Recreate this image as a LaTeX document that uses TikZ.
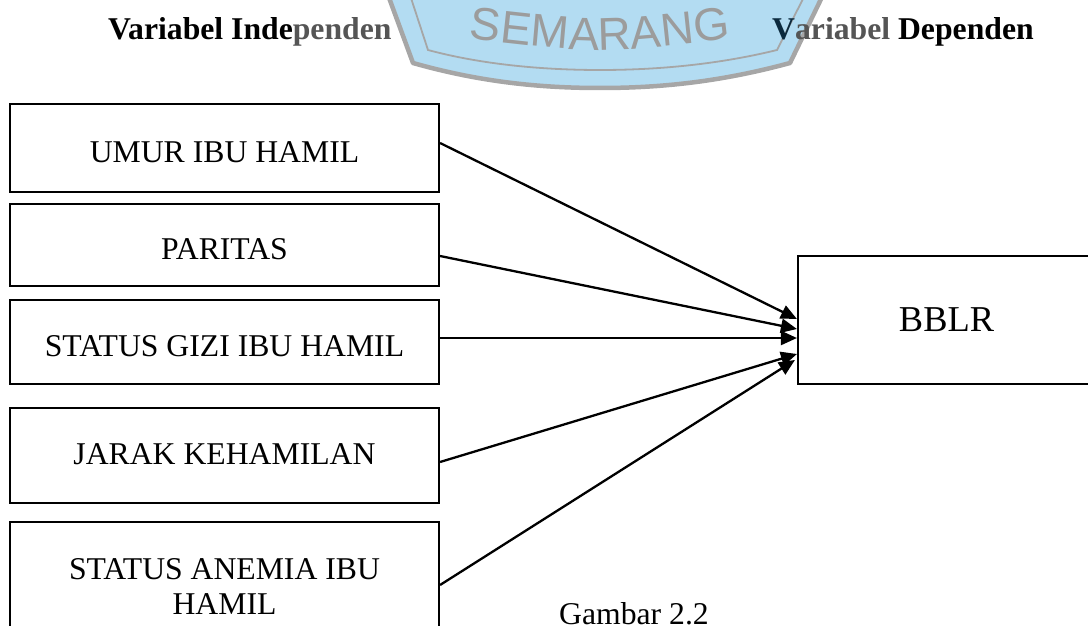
\documentclass[tikz,border=0pt]{standalone}
\usepackage{fontspec}
\setmainfont{Liberation Serif}
\setsansfont{Liberation Sans}
\usetikzlibrary{arrows.meta,calc,decorations.text}
\definecolor{wmblue}{HTML}{B3DCF2}
\definecolor{wmgray}{HTML}{A6A6A6}
\definecolor{wmtext}{HTML}{9C9C9C}
\definecolor{titlegray}{HTML}{555555}
\definecolor{titlenavy}{HTML}{0B2A3E}
\begin{document}
\begin{tikzpicture}[x=1pt,y=-1pt,
  box/.style={draw=black, line width=2.1pt, minimum width=429pt, inner sep=0pt},
  lbl/.style={font=\fontsize{31.7}{35}\selectfont, anchor=base, inner sep=0pt},
  title/.style={font=\bfseries\fontsize{31.7}{36}\selectfont, anchor=base west, inner sep=0pt},
  conn/.style={line width=2.3pt, -{Triangle[length=16pt,width=14pt]}}]
\useasboundingbox (0,0) rectangle (1088,626);
\clip (0,0) rectangle (1088,626);
% watermark
\path[fill=wmblue, draw=wmgray, line width=4.5pt, line join=round]
  (388,-5) -- (413,63) .. controls (480,82) and (540,88) .. (600,88)
  .. controls (660,88) and (720,82) .. (790,63) -- (823,-5) -- cycle;
\draw[wmgray, line width=1.8pt]
  (410,-5) -- (428,50) .. controls (480,64) and (540,70) .. (600,70)
  .. controls (660,70) and (720,64) .. (777,50) -- (805,-5);
\path[decorate, decoration={text along path, text align=center,
  text={|\sffamily\fontsize{46}{46}\selectfont\color{wmtext}|SEMARANG}}]
  (462,38) .. controls (600,54) .. (738,38);
% titles
\node[title] (t1) at (108,40) {Variabel Inde\textcolor{titlegray}{penden}};
\node[title] (t2) at (772,40) {\textcolor{titlenavy}{V}\textcolor{titlegray}{ariabel} Dependen};
% boxes
\node[box, minimum height=88pt] (b1) at (224.5,148) {};
\node[box, minimum height=82pt] (b2) at (224.5,245) {};
\node[box, minimum height=84pt] (b3) at (224.5,342) {};
\node[box, minimum height=95pt] (b4) at (224.5,455.5) {};
\node[box, minimum height=128pt] (b5) at (224.5,586) {};
\node[box, minimum width=297pt, minimum height=128pt, font=\fontsize{36.4}{40}\selectfont] (bb) at (946.5,320) {BBLR};
% labels
\node[lbl] (l1) at (224.5,162.5) {UMUR IBU HAMIL};
\node[lbl] (l2) at (224.5,259.5) {PARITAS};
\node[lbl] (l3) at (224.5,356) {STATUS GIZI IBU HAMIL};
\node[lbl] (l4) at (224.5,464) {JARAK KEHAMILAN};
\node[lbl, align=center, anchor=center] (l5) at (224.5,587) {STATUS ANEMIA IBU\\HAMIL};
\node[lbl] (cap) at (634,624) {Gambar 2.2};
% connectors
\draw[conn] ($(b1.east)+(0,-5)$) -- ($(bb.west)+(0,-1)$);
\draw[conn] ($(b2.east)+(0,11)$) -- ($(bb.west)+(0,9)$);
\draw[conn] ($(b3.east)+(0,-4)$) -- ($(bb.west)+(0,18)$);
\draw[conn] ($(b4.east)+(0,6.5)$) -- ($(bb.west)+(0,34)$);
\draw[conn] ($(b5.east)+(0,-1)$) -- ($(bb.west)+(-2,40)$);
\end{tikzpicture}
\end{document}
